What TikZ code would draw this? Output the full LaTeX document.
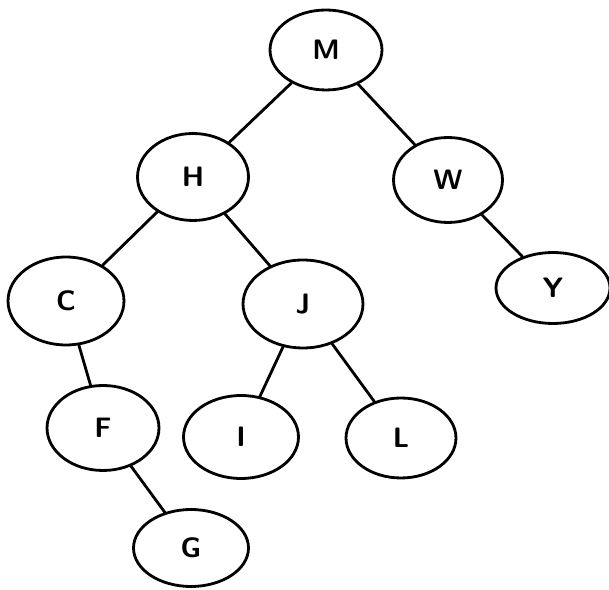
\documentclass[tikz,border=0pt]{standalone}
\usetikzlibrary{shapes.geometric}
\begin{document}
\begin{tikzpicture}[x=0.02cm,y=-0.02cm,line join=round,line cap=round,line width=1.6pt,
	font=\sffamily\bfseries\fontsize{16}{16}\selectfont,
	vtx/.style={draw,ellipse,inner sep=0pt,minimum width=2.26cm,minimum height=1.66cm}]
		\useasboundingbox (0,0) rectangle (609,590);
		\node[vtx,minimum width=2.24cm,minimum height=1.6cm] (M) at (326,50) {M};
		\node[vtx,minimum width=2.22cm,minimum height=1.74cm] (H) at (193,177) {H};
		\node[vtx,minimum width=2.18cm,minimum height=1.7cm] (W) at (448,180) {W};
		\node[vtx,minimum width=2.32cm,minimum height=1.76cm] (C) at (66,301) {C};
		\node[vtx,minimum width=2.4cm,minimum height=1.76cm] (J) at (303,304) {J};
		\node[vtx,minimum width=2.28cm,minimum height=1.42cm] (Y) at (553,288) {Y};
		\node[vtx,minimum width=2.24cm,minimum height=1.7cm] (F) at (103,428) {F};
		\node[vtx,minimum width=2.3cm] (I) at (241,437) {I};
		\node[vtx,minimum width=2.2cm,minimum height=1.6cm] (L) at (401,438) {L};
		\node[vtx,minimum width=2.3cm,minimum height=1.54cm] (G) at (191,548) {G};
		\draw (M)--(H);
		\draw (M)--(W);
		\draw (H)--(C);
		\draw (H)--(J);
		\draw (W)--(Y);
		\draw (C)--(F);
		\draw (J)--(I);
		\draw (J)--(L);
		\draw (F)--(G);
\end{tikzpicture}
\end{document}
